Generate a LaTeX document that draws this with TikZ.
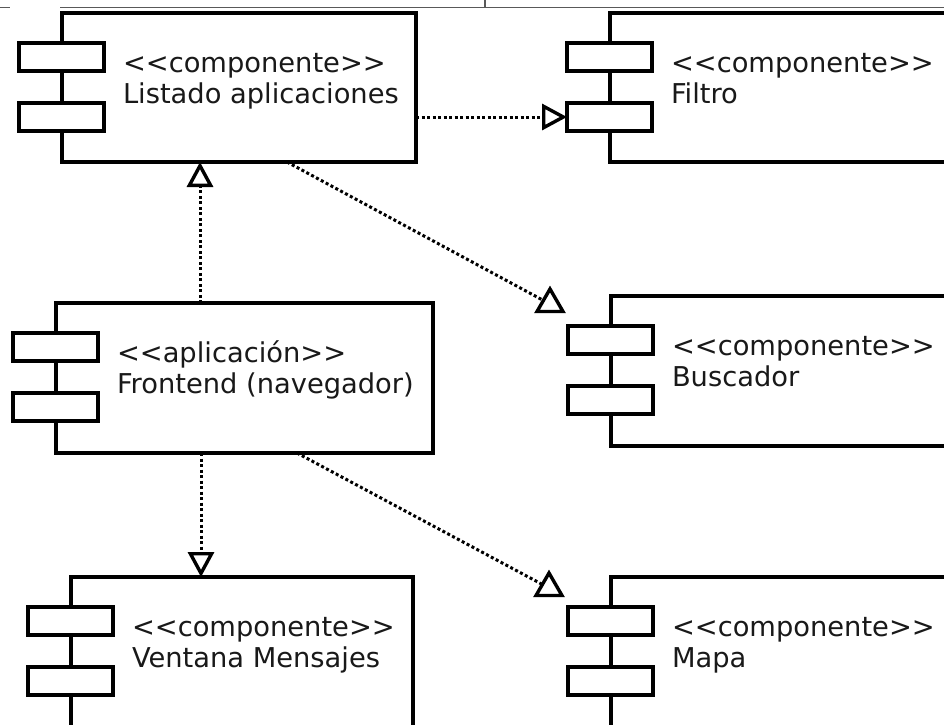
\documentclass[tikz,border=0pt]{standalone}
\usepackage{fontspec}
\setmainfont{DejaVu Sans}[Ligatures=TeXOff]
\usetikzlibrary{arrows.meta,calc,shapes.geometric}

% UML component: main box, two port rectangles on its left edge,
% a stereotype line and a name line.
% #1 name, #2 x, #3 y (top left), #4 width, #5 height, #6 stereotype, #7 title
\newcommand\umlcomp[7]{%
  \node[compbox, minimum width=#4pt, minimum height=#5pt] (#1) at (#2,#3) {};
  \node[portbox] (#1-p1) at ($(#1.north west)+(-43,30)$) {};
  \node[portbox] (#1-p2) at ($(#1.north west)+(-43,90)$) {};
  \node[comptext] (#1-s) at ($(#1.north west)+(61,59)$) {#6};
  \node[comptext] (#1-n) at ($(#1.north west)+(61,90)$) {#7};
}

\begin{document}
\begin{tikzpicture}[x=1pt,y=-1pt,
  compbox/.style={draw, line width=3.4pt, fill=white, anchor=north west,
    inner sep=0pt, outer sep=0pt},
  portbox/.style={draw, line width=3.4pt, fill=white, anchor=north west,
    minimum width=85pt, minimum height=28pt, inner sep=0pt, outer sep=0pt},
  comptext/.style={anchor=base west, inner sep=0pt, outer sep=0pt,
    text=black!90, font=\fontsize{27.3pt}{32pt}\selectfont},
  dep/.style={line width=3pt, dash pattern=on 3pt off 2.5pt},
  deptip/.style={dep, -{Triangle[open, length=25pt, width=26pt, line width=3.4pt]}},
  opentri/.style={draw, line width=3.4pt, fill=white, regular polygon,
    regular polygon sides=3, minimum size=30pt, inner sep=0pt, outer sep=0pt},
  edgeline/.style={draw=black!65, line width=1.5pt}
]
\useasboundingbox (0,0) rectangle (944,724);
\clip (0,0) rectangle (944,724);

% window edge along the top
\draw[edgeline] (0,7.5) -- (10,7.5) (60,7.5) -- (944,7.5) (485,0) -- (485,7.5);

% components
\umlcomp{list}{62}{13}{354}{149}{<<componente>>}{Listado aplicaciones}
\umlcomp{filt}{610}{13}{400}{149}{<<componente>>}{Filtro}
\umlcomp{busc}{611}{296}{400}{150}{<<componente>>}{Buscador}
\umlcomp{front}{56}{303}{377}{150}{<<aplicación>>}{Frontend (navegador)}
\umlcomp{vent}{71}{577}{342}{200}{<<componente>>}{Ventana Mensajes}
\umlcomp{mapa}{611}{577}{400}{200}{<<componente>>}{Mapa}

% dependencies
\draw[deptip] (list.east |- filt-p2.west) -- (filt-p2.west);
\coordinate (upA) at ($(front.north west)+(144,0)$);
\draw[deptip] (upA) -- (upA |- list.south);
\coordinate (dnA) at ($(front.south west)+(145,0)$);
\draw[deptip] (dnA) -- (dnA |- vent.north);

\node[opentri] (busc-tip) at (550,304) {};
\node[opentri] (mapa-tip) at (549,588) {};
\draw[dep] ($(list.south west)+(225,0)$) -- (busc-tip);
\draw[dep] ($(front.south west)+(241,0)$) -- (mapa-tip);
\end{tikzpicture}
\end{document}
